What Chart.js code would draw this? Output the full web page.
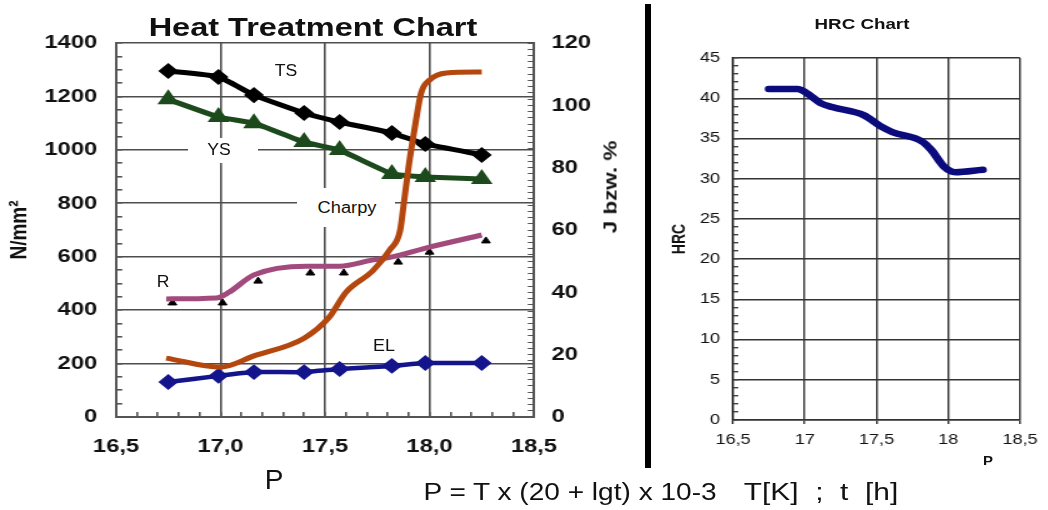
<!DOCTYPE html>
<html>
<head>
<meta charset="utf-8">
<title>Heat Treatment Chart</title>
<script src="https://cdn.jsdelivr.net/npm/chart.js@4.4.1/dist/chart.umd.min.js"></script>
<style>
body { margin:0; width:1048px; height:510px; background:#fff; position:relative; overflow:hidden; font-family:"Liberation Sans", Arial, sans-serif; }
.wrap { position:absolute; top:0; transform-origin:0 0; }
.lbl { position:absolute; line-height:1; white-space:pre; color:#111; transform:translate(-50%,-50%); }
.box { position:absolute; background:#fff; }
</style>
</head>
<body>
<!-- die Bilder sind in der Vorlage etwas in die Breite gezogen, deshalb scaleX -->
<div class="wrap" style="left:0; transform:scaleX(1.25)"><canvas id="heatChart" width="512" height="500"></canvas></div>
<div class="wrap" style="left:655px; transform:scaleX(1.3)"><canvas id="hrcChart" width="302" height="510"></canvas></div>

<!-- weisse Kaestchen hinter den Beschriftungen (unterbrechen das Gitter) -->
<div class="box" style="left:188px; top:138px; width:70px; height:25px"></div>
<div class="box" style="left:297px; top:188px; width:98px; height:39px"></div>

<div class="lbl" style="left:313px; top:27px; font-size:26px; font-weight:bold; transform:translate(-50%,-50%) scaleX(1.25)">Heat Treatment Chart</div>
<div class="lbl" style="left:286px; top:71px; font-size:16px; transform:translate(-50%,-50%) scaleX(1.1)">TS</div>
<div class="lbl" style="left:219px; top:150px; font-size:16px; transform:translate(-50%,-50%) scaleX(1.1)">YS</div>
<div class="lbl" style="left:347px; top:208px; font-size:16px; transform:translate(-50%,-50%) scaleX(1.14)">Charpy</div>
<div class="lbl" style="left:163px; top:282px; font-size:16px; transform:translate(-50%,-50%) scaleX(1.1)">R</div>
<div class="lbl" style="left:384px; top:346px; font-size:16px; transform:translate(-50%,-50%) scaleX(1.12)">EL</div>
<div class="lbl" style="left:610px; top:187px; font-size:19px; font-weight:bold; transform:translate(-50%,-50%) rotate(-90deg) scaleX(1.18)">J bzw. %</div>
<div class="lbl" style="left:274px; top:480px; font-size:28px;">P</div>

<div style="position:absolute; left:645px; top:4px; width:6px; height:464px; background:#000"></div>

<div class="lbl" style="left:862px; top:24px; font-size:14px; font-weight:bold; transform:translate(-50%,-50%) scaleX(1.34)">HRC Chart</div>
<div class="lbl" style="left:988px; top:460px; font-size:13px; font-weight:bold; transform:translate(-50%,-50%) scaleX(1.15)">P</div>

<div class="lbl" style="left:570px; top:492px; font-size:23px; transform:translate(-50%,-50%) scaleX(1.22)">P = T x (20 + lgt) x 10-3</div>
<div class="lbl" style="left:821px; top:492px; font-size:23px; transform:translate(-50%,-50%) scaleX(1.3)">T[K]  ;  t  [h]</div>

<script>
"use strict"
// Werte (P = Larson-Miller-Parameter)
const P_MAIN = [16.75, 16.99, 17.16, 17.4, 17.57, 17.82, 17.98, 18.25];
const TS = [1295, 1273, 1205, 1138, 1104, 1063, 1022, 981];   // N/mm²
const YS = [1189, 1123, 1100, 1029, 999, 910, 898, 891];      // N/mm²
const EL = [11.2, 13.2, 14.4, 14.4, 15.4, 16.4, 17.3, 17.3];  // %

const CHARPY_P = [16.74, 17.0, 17.16, 17.4, 17.52, 17.6, 17.73, 17.81, 17.86, 17.875, 17.9, 17.93, 17.96, 18.0, 18.08, 18.25];
const CHARPY_J = [18.9, 16.0, 19.6, 25.3, 32.0, 40.0, 47.0, 53.6, 60.0, 67.4, 80.2, 93.0, 104.0, 108.1, 110.4, 110.7];

const R_P = [16.74, 16.98, 17.04, 17.16, 17.41, 17.57, 17.73, 17.81, 18.0, 18.25];
const R_VAL = [37.9, 38.2, 40.0, 45.6, 48.4, 48.4, 50.4, 51.2, 54.5, 58.4];
// Messpunkte (Dreiecke) zu R
const R_MEAS_P = [16.77, 17.01, 17.18, 17.43, 17.59, 17.85, 18.0, 18.27];
const R_MEAS = [36.6, 36.6, 43.6, 46.2, 46.2, 49.7, 52.9, 56.5];

const HRC_P = [16.75, 16.95, 17.0, 17.11, 17.19, 17.41, 17.54, 17.61, 17.82, 17.88, 17.97, 18.05, 18.24];
const HRC = [41.15, 41.15, 40.8, 39.4, 38.9, 37.9, 36.4, 35.8, 34.6, 33.6, 31.5, 30.8, 31.1];

// Achsenbereiche
const X_MIN = 16.5, X_MAX = 18.5;
const LEFT_MAX = 1400, RIGHT_MAX = 120, HRC_MAX = 45;

Chart.defaults.font.family = '"Liberation Sans", Arial, sans-serif';
Chart.defaults.color = '#111';

function pts(xs, ys) { // aus zwei Arrays x/y-Paare machen
    return xs.map((x, i) => ({x: x, y: ys[i]}));
}
function isHalf(v) {
    return Math.abs(v * 2 - Math.round(v * 2)) < 1e-6;
}
function comma(v) {
    return String(v).replace('.', ',');
}

// ---------- linkes Diagramm ----------
new Chart(document.getElementById('heatChart'), {
    type: 'line',
    data: {
        datasets: [
            {label: 'Charpy', data: pts(CHARPY_P, CHARPY_J), yAxisID: 'y1', order: 0,
             borderColor: '#b4470e', borderWidth: 5, pointRadius: 0, cubicInterpolationMode: 'monotone'},
            {label: 'TS', data: pts(P_MAIN, TS), yAxisID: 'y', order: 1,
             borderColor: '#000', backgroundColor: '#000', borderWidth: 5, tension: 0.15,
             pointStyle: 'rectRot', pointRadius: 4.5},
            {label: 'YS', data: pts(P_MAIN, YS), yAxisID: 'y', order: 2,
             borderColor: '#1c4a1c', backgroundColor: '#1c4a1c', borderWidth: 5, tension: 0.1,
             pointStyle: 'triangle', pointRadius: 5},
            {label: 'R', data: pts(R_P, R_VAL), yAxisID: 'y1', order: 3,
             borderColor: '#a24a7c', borderWidth: 5, pointRadius: 0, cubicInterpolationMode: 'monotone'},
            {label: 'R Messwerte', data: pts(R_MEAS_P, R_MEAS), yAxisID: 'y1', order: 4, showLine: false,
             borderColor: '#000', backgroundColor: '#000', pointStyle: 'triangle', pointRadius: 4},
            {label: 'EL', data: pts(P_MAIN, EL), yAxisID: 'y1', order: 5,
             borderColor: '#14148c', backgroundColor: '#14148c', borderWidth: 4.5, tension: 0.1,
             pointStyle: 'rectRot', pointRadius: 4.8}
        ]
    },
    options: {
        responsive: false, animation: false, devicePixelRatio: 1, events: [],
        layout: {padding: {top: 43, left: 0, right: 0, bottom: 0}},
        plugins: {legend: {display: false}, tooltip: {enabled: false}},
        scales: {
            x: {
                type: 'linear', min: X_MIN, max: X_MAX,
                ticks: {stepSize: 0.1, autoSkip: false, maxRotation: 0, padding: 23,
                        font: {size: 19, weight: 'bold'},
                        callback: v => isHalf(v) ? v.toFixed(1).replace('.', ',') : ''},
                grid: {color: c => isHalf(c.tick.value) ? '#4d4d4d' : 'rgba(0,0,0,0)', lineWidth: 1.6,
                       tickLength: -5, tickColor: '#555'},
                border: {color: '#555', width: 2},
                afterFit: s => { s.height = 83 }
            },
            y: {
                position: 'left', min: 0, max: LEFT_MAX,
                ticks: {stepSize: 50, autoSkip: false, padding: 20, font: {size: 19, weight: 'bold'},
                        callback: v => v % 200 === 0 ? v : ''},
                grid: {color: c => c.tick.value % 200 === 0 ? '#4d4d4d' : 'rgba(0,0,0,0)', lineWidth: 1.6,
                       tickLength: -5, tickColor: '#555'},
                border: {color: '#555', width: 2},
                title: {display: true, text: 'N/mm²', font: {size: 19, weight: 'bold'}, padding: {top: 4.6, bottom: 0}},
                afterFit: s => { s.width = 92.8 }
            },
            y1: {
                position: 'right', min: 0, max: RIGHT_MAX,
                ticks: {stepSize: 2, autoSkip: false, padding: 19, font: {size: 19, weight: 'bold'},
                        callback: v => v % 20 === 0 ? v : ''},
                grid: {drawOnChartArea: false, tickLength: -5, tickColor: '#555'},
                border: {color: '#555', width: 2},
                afterFit: s => { s.width = 84.8 }
            }
        }
    }
});

// ---------- rechtes Diagramm (HRC) ----------
new Chart(document.getElementById('hrcChart'), {
    type: 'line',
    data: {
        datasets: [{
            label: 'HRC', data: pts(HRC_P, HRC),
            borderColor: '#0b0b7d', borderWidth: 6.5, borderCapStyle: 'round',
            pointRadius: 0, cubicInterpolationMode: 'monotone'
        }]
    },
    options: {
        responsive: false, animation: false, devicePixelRatio: 1, events: [],
        layout: {padding: {top: 58, left: 0, right: 15.1, bottom: 0}},
        plugins: {legend: {display: false}, tooltip: {enabled: false}},
        scales: {
            x: {
                type: 'linear', min: X_MIN, max: X_MAX,
                ticks: {stepSize: 0.5, autoSkip: false, maxRotation: 0, padding: 7.6, font: {size: 14},
                        callback: v => comma(v)},
                grid: {color: '#333', lineWidth: 1.4, tickLength: 4, tickColor: '#333'},
                border: {color: '#333', width: 1.5},
                afterFit: s => { s.height = 90 }
            },
            y: {
                min: 0, max: HRC_MAX,
                ticks: {stepSize: 1, autoSkip: false, padding: 14, font: {size: 14},
                        callback: v => v % 5 === 0 ? v : ''},
                grid: {color: c => c.tick.value % 5 === 0 ? '#333' : 'rgba(0,0,0,0)', lineWidth: 1.4,
                       tickLength: -4, tickColor: '#444'},
                border: {color: '#333', width: 1.5},
                title: {display: true, text: 'HRC', font: {size: 14, weight: 'bold'}, padding: {top: 10.8, bottom: 0}},
                afterFit: s => { s.width = 60 }
            }
        }
    }
});
</script>
</body>
</html>
